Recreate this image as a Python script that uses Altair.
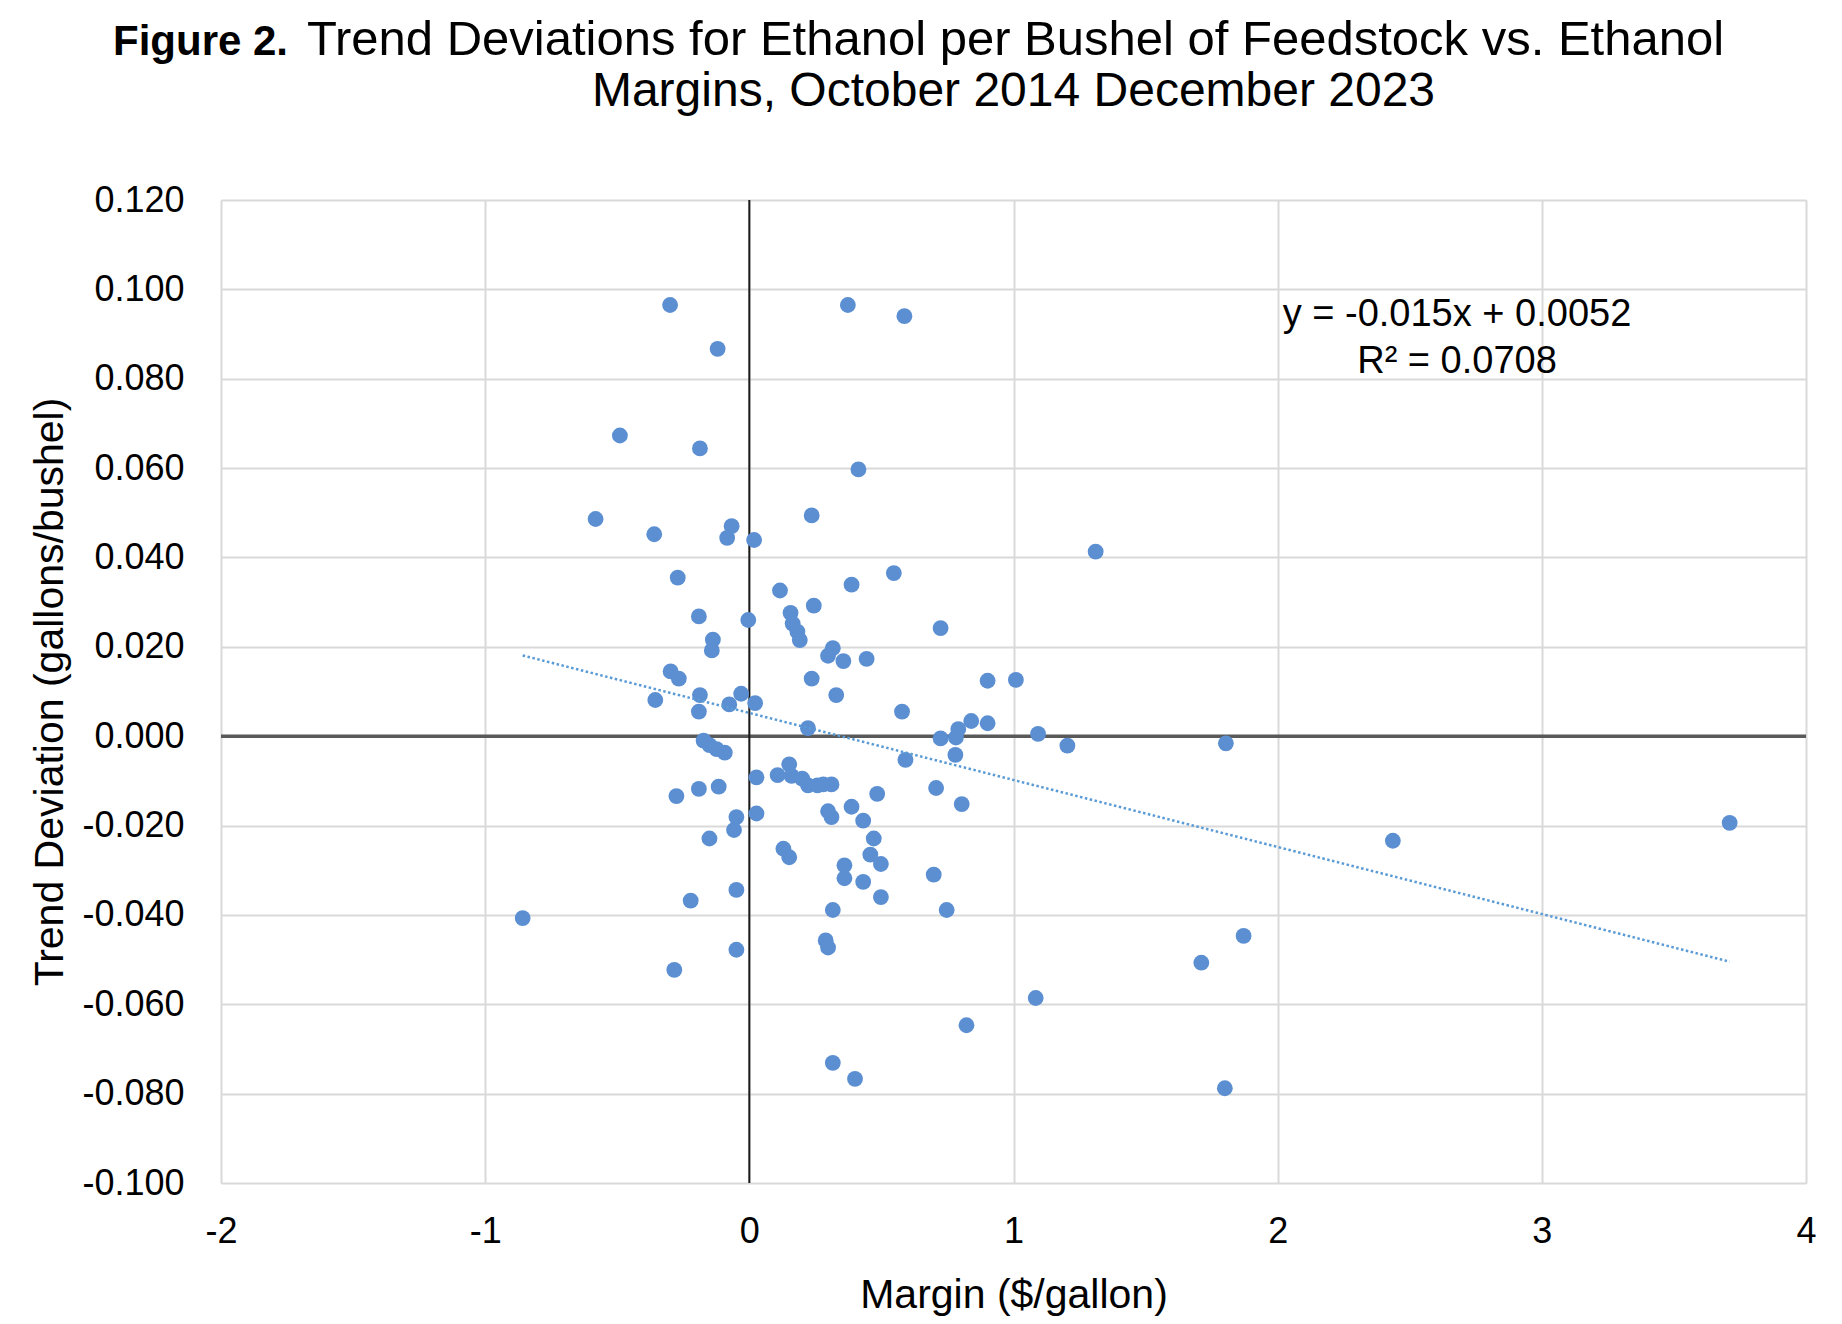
import altair as alt
import pandas as pd

margin = [
    -0.300, 0.373, 0.587, -0.120, -0.490, -0.187, 0.413, -0.582, -0.360, -0.067,
    -0.084, 0.018, 0.236, 1.311, -0.271, 0.116, 0.387, 0.547, 0.244, -0.191,
    -0.004, 0.156, 0.164, 0.182, 0.191, -0.138, -0.142, 0.724, 0.316, 0.298,
    0.356, 0.444, -0.298, -0.267, 0.236, 0.902, 1.009, 0.329, -0.356, -0.187,
    -0.191, -0.076, -0.031, 0.022, 0.578, 0.222, 0.840, 0.902, 0.791, 0.782,
    0.724, 0.780, 1.093, 1.204, 1.804, -0.173, -0.151, -0.124, -0.093, 0.591,
    0.027, 0.107, 0.151, 0.160, 0.200, 0.222, 0.258, 0.280, 0.311, -0.116,
    -0.191, -0.276, 0.707, 0.484, 0.804, 0.387, 0.027, -0.049, 0.298, 0.311,
    0.431, -0.058, -0.151, 0.471, 0.129, 0.151, 0.458, 0.498, 0.360, 0.360,
    0.431, 0.698, -0.049, -0.222, 0.498, 0.316, 0.747, -0.858, 1.871, 0.289,
    0.298, -0.049, 1.711, -0.284, 1.084, 0.822, 0.316, 0.400, 1.800, 2.436,
    3.711,
]
deviation = [
    0.0965, 0.0965, 0.0940, 0.0867, 0.0673, 0.0644, 0.0597, 0.0486, 0.0452, 0.0470,
    0.0444, 0.0439, 0.0494, 0.0413, 0.0355, 0.0326, 0.0339, 0.0365, 0.0292, 0.0268,
    0.0260, 0.0276, 0.0252, 0.0234, 0.0215, 0.0216, 0.0192, 0.0242, 0.0197, 0.0180,
    0.0168, 0.0173, 0.0145, 0.0129, 0.0129, 0.0124, 0.0126, 0.0092, 0.0081, 0.0092,
    0.0055, 0.0071, 0.0095, 0.0074, 0.0055, 0.0018, 0.0034, 0.0029, 0.0016, -0.0003,
    -0.0005, -0.0042, 0.0005, -0.0021, -0.0016, -0.0010, -0.0020, -0.0029, -0.0037, -0.0053,
    -0.0092, -0.0087, -0.0063, -0.0089, -0.0095, -0.0110, -0.0110, -0.0108, -0.0108, -0.0113,
    -0.0118, -0.0134, -0.0116, -0.0129, -0.0152, -0.0158, -0.0173, -0.0181, -0.0168, -0.0181,
    -0.0189, -0.0210, -0.0229, -0.0229, -0.0252, -0.0271, -0.0265, -0.0286, -0.0289, -0.0318,
    -0.0326, -0.0310, -0.0344, -0.0368, -0.0360, -0.0389, -0.0389, -0.0407, -0.0447, -0.0457,
    -0.0473, -0.0478, -0.0507, -0.0523, -0.0586, -0.0647, -0.0731, -0.0767, -0.0788, -0.0234,
    -0.0194,
]

x_ticks = [-2, -1, 0, 1, 2, 3, 4]
y_ticks = [-0.10, -0.08, -0.06, -0.04, -0.02, 0.0, 0.02, 0.04, 0.06, 0.08, 0.10, 0.12]

title_prefix = "Figure 2."
title_line1 = "Trend Deviations for Ethanol per Bushel of Feedstock vs. Ethanol"
title_line2 = "Margins, October 2014 December 2023"
eq_line1 = "y = -0.015x + 0.0052"
eq_line2 = "R² = 0.0708"

# Published linear trend: y = -0.015x + 0.0052, R² = 0.0708
slope = -0.015
intercept = 0.0052
trend_x = [min(margin), max(margin)]
trend_y = [slope * v + intercept for v in trend_x]

FONT = "Liberation Sans"
POINT_COLOR = "#5B8FD2"
W, H = 1585, 983

pts = pd.DataFrame({"margin": margin, "dev": deviation})
trend = pd.DataFrame({"margin": trend_x, "dev": trend_y})
zero = pd.DataFrame({"v": [0]})

x_scale = alt.Scale(domain=[-2, 4], nice=False, zero=False)
y_scale = alt.Scale(domain=[-0.10, 0.12], nice=False, zero=False)

x_axis = alt.Axis(
    values=x_ticks,
    labelExpr="replace(format(datum.value, 'd'), '\u2212', '-')",
    title="Margin ($/gallon)",
    grid=True, gridColor="#d9d9d9", gridWidth=2,
    domain=False, ticks=False, labelFlush=False, labelOverlap=False,
    labelFontSize=36, labelFont=FONT, labelColor="black", labelPadding=31,
    titleFontSize=41, titleFont=FONT, titleFontWeight="normal", titleColor="black",
    titlePadding=26,
)
y_axis = alt.Axis(
    values=y_ticks,
    labelExpr="replace(format(datum.value, '.3f'), '\u2212', '-')",
    title="Trend Deviation (gallons/bushel)",
    grid=True, gridColor="#d9d9d9", gridWidth=2,
    domain=False, ticks=False, labelFlush=False, labelOverlap=False,
    labelFontSize=36, labelFont=FONT, labelColor="black", labelPadding=37,
    titleFontSize=41, titleFont=FONT, titleFontWeight="normal", titleColor="black",
    titlePadding=10,
)

base = alt.Chart(pts).mark_point(opacity=0).encode(
    x=alt.X("margin:Q", scale=x_scale, axis=x_axis),
    y=alt.Y("dev:Q", scale=y_scale, axis=y_axis),
)

hline = alt.Chart(zero).mark_rule(color="#595959", strokeWidth=3.5).encode(
    y=alt.Y("v:Q", scale=y_scale)
)
vline = alt.Chart(zero).mark_rule(color="#1a1a1a", strokeWidth=2).encode(
    x=alt.X("v:Q", scale=x_scale)
)

points = alt.Chart(pts).mark_circle(size=250, color=POINT_COLOR, opacity=1).encode(
    x=alt.X("margin:Q", scale=x_scale),
    y=alt.Y("dev:Q", scale=y_scale),
)

trend_line = alt.Chart(trend).mark_line(
    color="#5B9BD5", strokeWidth=2.5, strokeDash=[2.5, 2.5]
).encode(
    x=alt.X("margin:Q", scale=x_scale),
    y=alt.Y("dev:Q", scale=y_scale),
)


def label(text, x, y, size, weight="normal", align="center", font=FONT):
    return alt.Chart(zero).mark_text(
        text=text, font=font, fontSize=size, fontWeight=weight, color="black",
        align=align, baseline="alphabetic",
    ).encode(x=alt.value(x), y=alt.value(y))


eq1 = label(eq_line1, 1236, 126, 38)
eq2 = label(eq_line2, 1236, 173, 38)

t_prefix = label(title_prefix, -108, -145, 42, weight="bold", align="left")
t_line1 = label(title_line1, W / 2 + 2, -145, 49)
t_line2 = label(title_line2, W / 2, -94, 48)

chart = alt.layer(
    base, hline, vline, points, trend_line, eq1, eq2, t_prefix, t_line1, t_line2
).properties(
    width=W,
    height=H,
    autosize=alt.AutoSizeParams(type="none"),
    padding={"left": 213, "top": 192, "right": 28, "bottom": 140},
).configure_view(stroke=None).configure(background="white")

chart.save("out.html", embed_options={"renderer": "svg", "actions": False})
